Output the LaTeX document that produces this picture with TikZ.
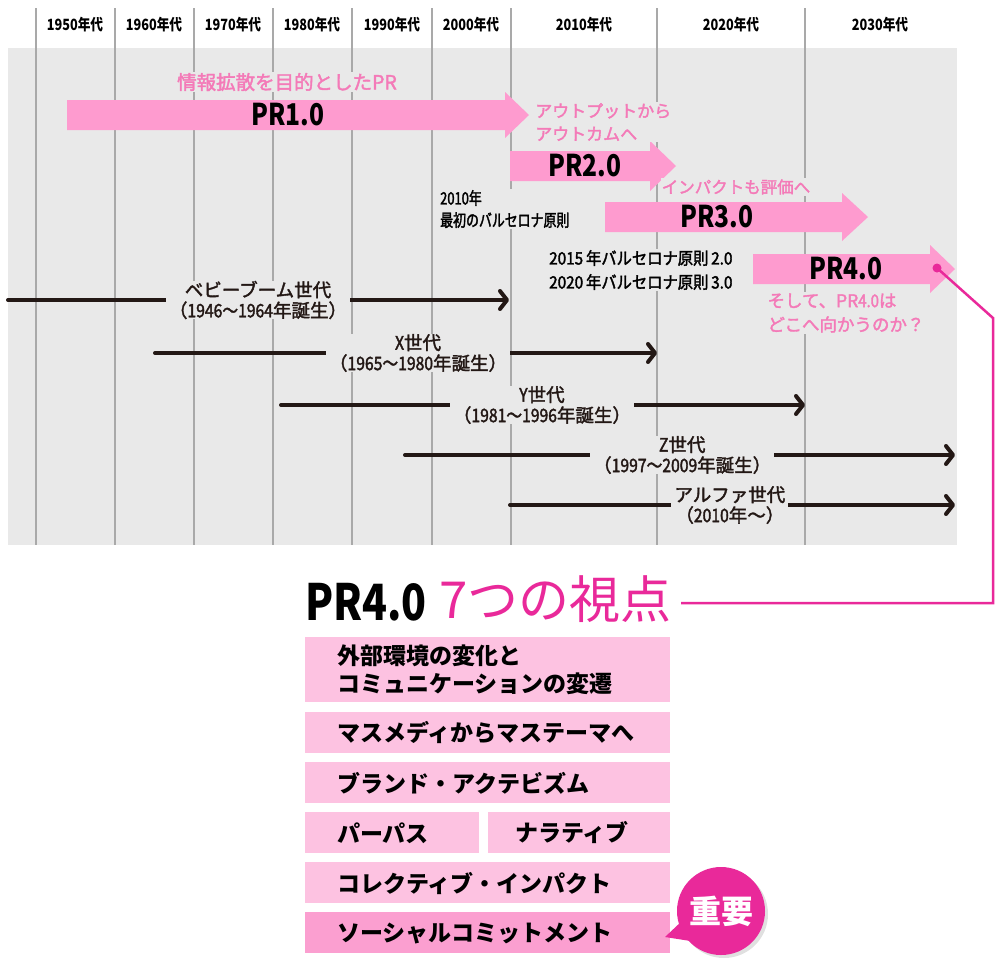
\documentclass[tikz,border=0pt]{standalone}
\usepackage{fontspec}
\setmainfont{Noto Sans CJK JP}
\newfontfamily\cnd[FakeStretch=0.82]{Noto Sans CJK JP}
\newfontfamily\med[FakeBold=2]{Noto Sans CJK JP}
\newfontfamily\medn[FakeBold=2,FakeStretch=0.9]{Noto Sans CJK JP}
\newfontfamily\medc[FakeBold=2,FakeStretch=0.76]{Noto Sans CJK JP}
\newfontfamily\cndm[FakeStretch=0.85,FakeBold=2]{Noto Sans CJK JP}
\usetikzlibrary{arrows.meta}
\definecolor{bggray}{HTML}{E9E9E9}
\definecolor{vgray}{HTML}{A9A9A9}
\definecolor{pinkA}{HTML}{FE9BCF}
\definecolor{pinkT}{HTML}{F47AB8}
\definecolor{boxL}{HTML}{FDC2E1}
\definecolor{boxD}{HTML}{FB9FD0}
\definecolor{mag}{HTML}{E9299A}
\definecolor{dark}{HTML}{231815}
\newcommand{\fsz}[2]{\fontsize{#1}{#2}\selectfont}
\newcommand{\numm}[1]{{\cndm #1}}
\begin{document}
\begin{tikzpicture}[x=1pt,y=-1pt,
  vline/.style={draw=vgray,line width=2pt},
  hdr/.style={font=\cnd\bfseries\fsz{15.5}{15.5},inner sep=0},
  prlab/.style={font=\cnd\bfseries\fsz{30}{30},text=black,inner sep=0},
  pinknote/.style={text=pinkT,fill=bggray,inner sep=1pt,align=left,font=\med\fsz{17}{23}},
  blacknote/.style={fill=bggray,inner sep=1pt,align=left,text=black},
  gen/.style={draw=dark,line width=4pt,line cap=round,-{Straight Barb[length=7pt,width=18pt,round]}},
  genlab/.style={fill=bggray,inner xsep=3pt,inner ysep=0pt,align=center,font=\med\fsz{18.5}{20.5},text=dark},
  box/.style={fill=boxL,minimum height=41pt,anchor=north west,inner sep=0},
  boxtext/.style={anchor=west,font=\bfseries\fsz{23}{28},align=left,inner sep=0,text=black},
]
\useasboundingbox (0,0) rectangle (1000,967);
\fill[white] (0,0) rectangle (1000,967);
\fill[bggray] (8,48) rectangle (957,545);
\foreach \x in {36,115,194,273,352,432,511,657,805}{\draw[vline] (\x,8) -- (\x,545);}
% header
\node[hdr] (h50) at (75,25) {1950年代};
\node[hdr] (h60) at (154,25) {1960年代};
\node[hdr] (h70) at (233,25) {1970年代};
\node[hdr] (h80) at (312,25) {1980年代};
\node[hdr] (h90) at (392,25) {1990年代};
\node[hdr] (h00) at (471,25) {2000年代};
\node[hdr] (h10) at (584,25) {2010年代};
\node[hdr] (h20) at (731,25) {2020年代};
\node[hdr] (h30) at (880,25) {2030年代};
% PR arrows
\fill[pinkA] (67,100) -- (505,100) -- (505,92) -- (529,115) -- (505,138) -- (505,130) -- (67,130) -- cycle;
\fill[pinkA] (510,151) -- (650,151) -- (650,141) -- (676,166) -- (650,191) -- (650,181) -- (510,181) -- cycle;
\fill[pinkA] (605,202) -- (842,202) -- (842,193) -- (868,217) -- (842,241) -- (842,232) -- (605,232) -- cycle;
\fill[pinkA] (753,254) -- (930,254) -- (930,245) -- (955,269) -- (930,293) -- (930,284) -- (753,284) -- cycle;
\node[prlab] (pr1) at (288,115) {PR1.0};
\node[prlab] (pr2) at (585,166) {PR2.0};
\node[prlab] (pr3) at (717,217) {PR3.0};
\node[prlab] (pr4) at (846,269) {PR4.0};
% pink notes
\node[pinknote,font=\med\fsz{19.5}{23}] (n1) at (287,82) {情報拡散を目的としたPR};
\node[pinknote,anchor=west] (n2) at (534,122) {アウトプットから\\アウトカムへ};
\node[pinknote,font=\med\fsz{16.5}{20}] (n3) at (736,187) {インパクトも評価へ};
\node[pinknote,align=left,font=\med\fsz{17.5}{24}] (n4) at (846,313) {そして、PR\numm{4.0}は\\どこへ向かうのか？};
% black notes
\node[blacknote,anchor=west,font=\medc\fsz{17}{22}] (b1) at (439,209) {2010年\\最初のバルセロナ原則};
\node[blacknote,anchor=west,font=\medn\fsz{17}{24}] (b2) at (548,270) {2015\,年バルセロナ原則\,2.0\\2020\,年バルセロナ原則\,3.0};
% generations
\coordinate (g1s) at (8,300);   \coordinate (g1e) at (509,300);
\coordinate (g2s) at (155,353); \coordinate (g2e) at (657,353);
\coordinate (g3s) at (281,405); \coordinate (g3e) at (805,405);
\coordinate (g4s) at (405,455); \coordinate (g4e) at (955,455);
\coordinate (g5s) at (510,505); \coordinate (g5e) at (955,505);
\draw[gen] (g1s) -- node[genlab,pos=0.499] (l1) {ベビーブーム世代\\（\numm{1946～1964}年誕生）} (g1e);
\draw[gen] (g2s) -- node[genlab,pos=0.524] (l2) {\numm{X}世代\\（\numm{1965～1980}年誕生）} (g2e);
\draw[gen] (g3s) -- node[genlab,pos=0.498] (l3) {\numm{Y}世代\\（\numm{1981～1996}年誕生）} (g3e);
\draw[gen] (g4s) -- node[genlab,pos=0.504] (l4) {\numm{Z}世代\\（\numm{1997～2009}年誕生）} (g4e);
\draw[gen] (g5s) -- node[genlab,pos=0.494] (l5) {アルファ世代\\（\numm{2010}年～）} (g5e);
% title
\node[anchor=base west,inner sep=0,font=\cnd\bfseries\fsz{50}{50}] (t1) at (305,620) {PR4.0};
\node[anchor=base west,inner sep=0,text=mag,font=\fsz{51}{51}] (t2) at (439,618) {7つの視点};
% connector
\node[circle,fill=mag,inner sep=0,minimum size=9pt] (dot) at (937,268) {};
\coordinate (c1) at (993,318);
\coordinate (c2) at (681,603);
\draw[mag,line width=2.5pt] (dot.center) -- (c1) |- (c2);
% boxes
\node[box,minimum width=365pt,minimum height=65pt] (bx1) at (305,637) {};
\node[box,minimum width=365pt] (bx2) at (305,712) {};
\node[box,minimum width=365pt] (bx3) at (305,762) {};
\node[box,minimum width=174pt] (bx4) at (305,812) {};
\node[box,minimum width=182pt] (bx5) at (488,812) {};
\node[box,minimum width=365pt] (bx6) at (305,862) {};
\node[box,fill=boxD,minimum width=365pt] (bx7) at (305,912) {};
\node[boxtext] (tx1) at (337,670) {外部環境の変化と\\コミュニケーションの変遷};
\node[boxtext] (tx2) at (337,733) {マスメディからマステーマへ};
\node[boxtext] (tx3) at (337,783) {ブランド・アクテビズム};
\node[boxtext] (tx4) at (337,833) {パーパス};
\node[boxtext] (tx5) at (515,833) {ナラティブ};
\node[boxtext] (tx6) at (337,883) {コレクティブ・インパクト};
\node[boxtext] (tx7) at (337,933) {ソーシャルコミットメント};
% badge
\fill[black,opacity=0.12] (724,914) circle (44);
\fill[mag] (683,920) -- (665,937) -- (697,942) -- cycle;
\node[circle,fill=mag,minimum size=88pt,inner sep=0,text=white,font=\bfseries\fsz{32}{32}] (imp) at (721,911) {重要};
\end{tikzpicture}
\end{document}
